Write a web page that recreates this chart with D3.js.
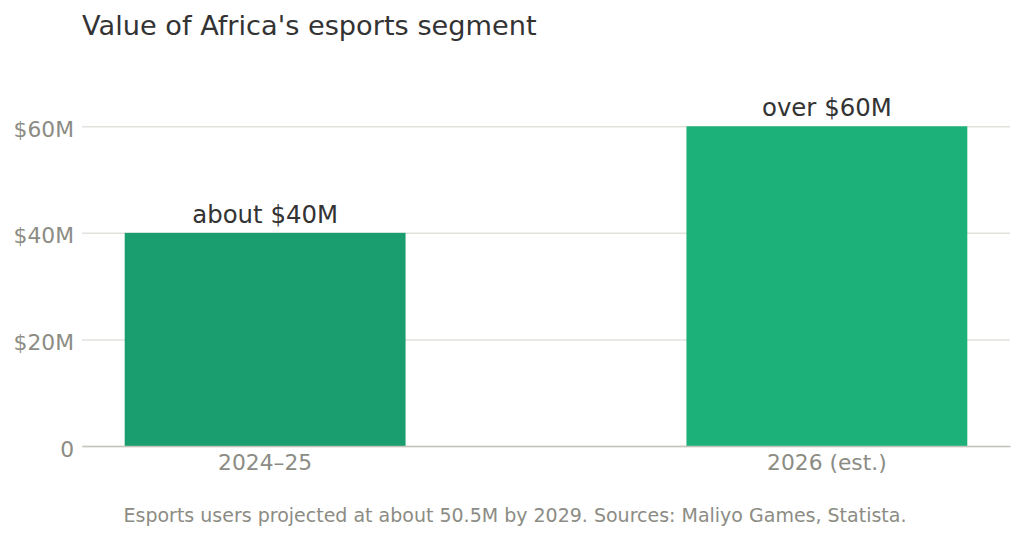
<!DOCTYPE html>
<html>
<head>
<meta charset="utf-8">
<script src="https://cdn.jsdelivr.net/npm/d3@7"></script>
<style>
  body { margin: 0; background: #fff; }
  text { font-family: "DejaVu Sans", sans-serif; }
</style>
</head>
<body>
<div id="chart"></div>
<script>
// data
var periods = ["2024–25", "2026 (est.)"];
var values = [40, 60];
var barLabels = ["about $40M", "over $60M"];
var barColors = ["#1b9e6f", "#1db17a"];
var yTicks = [0, 20, 40, 60];

var svgWidth = 1024;
var svgHeight = 541;

var margin = { top: 73, right: 14, bottom: 95, left: 82 };
var width = svgWidth - margin.left - margin.right;
var height = svgHeight - margin.top - margin.bottom;

var svg = d3.select("#chart")
  .append("svg")
  .attr("width", svgWidth)
  .attr("height", svgHeight);

var chartGroup = svg.append("g")
  .attr("transform", `translate(${margin.left}, ${margin.top})`);

var x = d3.scaleBand()
  .domain(periods)
  .range([0, width])
  .paddingInner(0.5)
  .paddingOuter(0.076);

var y = d3.scaleLinear()
  .domain([0, 70])
  .range([height, 0]);

// gridlines + y labels
var yAxis = d3.axisLeft(y)
  .tickValues(yTicks)
  .tickSize(-width)
  .tickPadding(8)
  .tickFormat(d => d === 0 ? "0" : "$" + d + "M");

var yg = chartGroup.append("g").call(yAxis);
yg.select(".domain").remove();
yg.selectAll(".tick line").attr("stroke", "#e2e2dd").attr("stroke-width", 1.5);
yg.selectAll(".tick text")
  .attr("fill", "#8c8c84")
  .attr("font-size", 21.8)
  .attr("dy", "0.46em")
  .attr("x", -8);

// bars
chartGroup.selectAll(".bar")
  .data(values)
  .enter()
  .append("rect")
  .attr("class", "bar")
  .attr("x", (d, i) => x(periods[i]))
  .attr("y", d => y(d))
  .attr("width", x.bandwidth())
  .attr("height", d => height - y(d))
  .attr("fill", (d, i) => barColors[i]);

// value labels
chartGroup.selectAll(".lbl")
  .data(values)
  .enter()
  .append("text")
  .attr("class", "lbl")
  .attr("x", (d, i) => x(periods[i]) + x.bandwidth() / 2)
  .attr("y", d => y(d) - 10)
  .attr("text-anchor", "middle")
  .attr("fill", "#333")
  .attr("font-size", 24.4)
  .text((d, i) => barLabels[i]);

// x axis
var xg = chartGroup.append("g")
  .attr("transform", `translate(0, ${height})`)
  .call(d3.axisBottom(x).tickSize(0).tickPadding(9));
xg.select(".domain").attr("stroke", "#c4c4b8").attr("stroke-width", 1.5);
xg.selectAll(".tick text")
  .attr("fill", "#8c8c84")
  .attr("font-size", 21.8);

// title
svg.append("text")
  .attr("x", 82)
  .attr("y", 35)
  .attr("fill", "#333")
  .attr("font-size", 27.2)
  .text("Value of Africa's esports segment");

// footnote
svg.append("text")
  .attr("x", 515)
  .attr("y", 522)
  .attr("text-anchor", "middle")
  .attr("fill", "#8c8c84")
  .attr("font-size", 19)
  .text("Esports users projected at about 50.5M by 2029. Sources: Maliyo Games, Statista.");
</script>
</body>
</html>
